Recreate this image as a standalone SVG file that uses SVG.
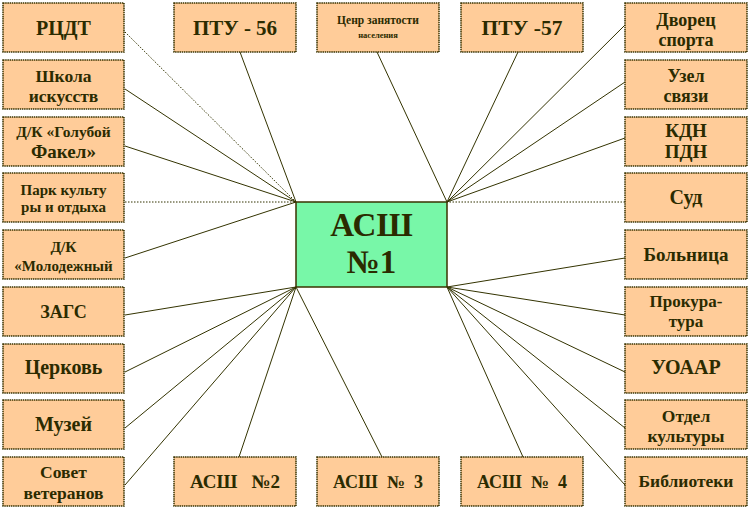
<svg xmlns="http://www.w3.org/2000/svg" width="750" height="510" viewBox="0 0 750 510">
<style>
.b{fill:#FFCC99;stroke:#3a3300;stroke-width:1.5;stroke-dasharray:1.5 0.7}
.c{fill:#78F7A8;stroke:#3a3300;stroke-width:1.5}
text{font-family:"Liberation Serif","Times New Roman",serif;font-weight:bold;fill:#2b2b00;text-anchor:middle}
.l{stroke:#333300;stroke-width:1;fill:none}
.d{stroke:#333300;stroke-width:1;fill:none;stroke-dasharray:1.5 1.5}
</style>
<rect width="750" height="510" fill="#ffffff"/>
<g id="connectors">
<line class="d" x1="125" y1="32" x2="296" y2="202"/>
<line class="l" x1="125" y1="89" x2="296" y2="202"/>
<line class="l" x1="125" y1="146" x2="296" y2="202"/>
<line class="d" x1="125" y1="202" x2="296" y2="202"/>
<line class="l" x1="125" y1="258" x2="296" y2="202"/>
<line class="l" x1="125" y1="315" x2="296" y2="287"/>
<line class="l" x1="125" y1="372" x2="296" y2="287"/>
<line class="l" x1="125" y1="428" x2="296" y2="287"/>
<line class="l" x1="125" y1="485" x2="296" y2="287"/>
<line class="l" x1="240" y1="52" x2="296" y2="202"/>
<line class="l" x1="377" y1="52" x2="447" y2="202"/>
<line class="l" x1="518" y1="52" x2="447" y2="202"/>
<line class="l" x1="625" y1="25" x2="447" y2="202"/>
<line class="l" x1="625" y1="82" x2="447" y2="202"/>
<line class="l" x1="625" y1="138" x2="447" y2="202"/>
<line class="d" x1="625" y1="202" x2="447" y2="202"/>
<line class="l" x1="625" y1="258" x2="447" y2="287"/>
<line class="l" x1="625" y1="315" x2="447" y2="287"/>
<line class="l" x1="625" y1="372" x2="447" y2="287"/>
<line class="l" x1="625" y1="428" x2="447" y2="287"/>
<line class="l" x1="625" y1="485" x2="447" y2="287"/>
<line class="l" x1="239" y1="457" x2="296" y2="287"/>
<line class="l" x1="382" y1="457" x2="296" y2="287"/>
<line class="l" x1="523" y1="457" x2="447" y2="287"/>
</g>
<g id="center"><rect class="c" x="296" y="202" width="151" height="85"/><text x="371.5" y="236" font-size="33">АСШ</text><text x="371.5" y="273" font-size="33">№1</text></g>
<g id="n1"><rect class="b" x="3" y="3" width="121" height="49"/><text x="63.5" y="35" font-size="20">РЦДТ</text></g>
<g id="n2"><rect class="b" x="3" y="60" width="121" height="49"/><text x="63.5" y="82" font-size="17.5">Школа</text><text x="63.5" y="102" font-size="17.5">искусств</text></g>
<g id="n3"><rect class="b" x="3" y="117" width="121" height="49"/><text x="63.5" y="137" font-size="15.5">Д/К «Голубой</text><text x="63.5" y="158" font-size="19">Факел»</text></g>
<g id="n4"><rect class="b" x="3" y="173" width="121" height="49"/><text x="63.5" y="195" font-size="15">Парк культу</text><text x="63.5" y="212" font-size="15">ры и отдыха</text></g>
<g id="n5"><rect class="b" x="3" y="230" width="121" height="49"/><text x="63.5" y="252" font-size="15.5">Д/К</text><text x="63.5" y="271" font-size="15">«Молодежный</text></g>
<g id="n6"><rect class="b" x="3" y="287" width="121" height="49"/><text x="63.5" y="318" font-size="18">ЗАГС</text></g>
<g id="n7"><rect class="b" x="3" y="344" width="121" height="49"/><text x="63.5" y="374" font-size="20">Церковь</text></g>
<g id="n8"><rect class="b" x="3" y="400" width="121" height="49"/><text x="63.5" y="431" font-size="20">Музей</text></g>
<g id="n9"><rect class="b" x="3" y="457" width="121" height="49"/><text x="63.5" y="478" font-size="17.5">Совет</text><text x="63.5" y="499" font-size="17.5">ветеранов</text></g>
<g id="t1"><rect class="b" x="174" y="3" width="122" height="49"/><text x="235" y="35" font-size="21">ПТУ - 56</text></g>
<g id="t2"><rect class="b" x="317" y="3" width="122" height="49"/><text x="378" y="24" font-size="11.5">Ценр занятости</text><text x="378" y="38" font-size="8.5">населения</text></g>
<g id="t3"><rect class="b" x="461" y="3" width="122" height="49"/><text x="522" y="35" font-size="21.5">ПТУ -57</text></g>
<g id="r1"><rect class="b" x="625" y="3" width="122" height="49"/><text x="686" y="26" font-size="18">Дворец</text><text x="686" y="46" font-size="18">спорта</text></g>
<g id="r2"><rect class="b" x="625" y="60" width="122" height="49"/><text x="686" y="82" font-size="18">Узел</text><text x="686" y="102" font-size="18">связи</text></g>
<g id="r3"><rect class="b" x="625" y="117" width="122" height="49"/><text x="686" y="137" font-size="19">КДН</text><text x="686" y="158" font-size="19">ПДН</text></g>
<g id="r4"><rect class="b" x="625" y="173" width="122" height="49"/><text x="686" y="204" font-size="20">Суд</text></g>
<g id="r5"><rect class="b" x="625" y="230" width="122" height="49"/><text x="686" y="261" font-size="19">Больница</text></g>
<g id="r6"><rect class="b" x="625" y="287" width="122" height="49"/><text x="686" y="307" font-size="17">Прокура-</text><text x="686" y="327" font-size="17">тура</text></g>
<g id="r7"><rect class="b" x="625" y="344" width="122" height="49"/><text x="686" y="374" font-size="20">УОААР</text></g>
<g id="r8"><rect class="b" x="625" y="400" width="122" height="49"/><text x="686" y="422" font-size="17.5">Отдел</text><text x="686" y="442" font-size="17.5">культуры</text></g>
<g id="r9"><rect class="b" x="625" y="457" width="122" height="49"/><text x="686" y="487" font-size="17.5">Библиотеки</text></g>
<g id="b1"><rect class="b" x="174" y="457" width="122" height="49"/><text x="235" y="488" font-size="19" xml:space="preserve">АСШ   №2</text></g>
<g id="b2"><rect class="b" x="317" y="457" width="122" height="49"/><text x="378" y="488" font-size="18" xml:space="preserve">АСШ  №  3</text></g>
<g id="b3"><rect class="b" x="461" y="457" width="122" height="49"/><text x="522" y="488" font-size="18" xml:space="preserve">АСШ  №  4</text></g>
</svg>
